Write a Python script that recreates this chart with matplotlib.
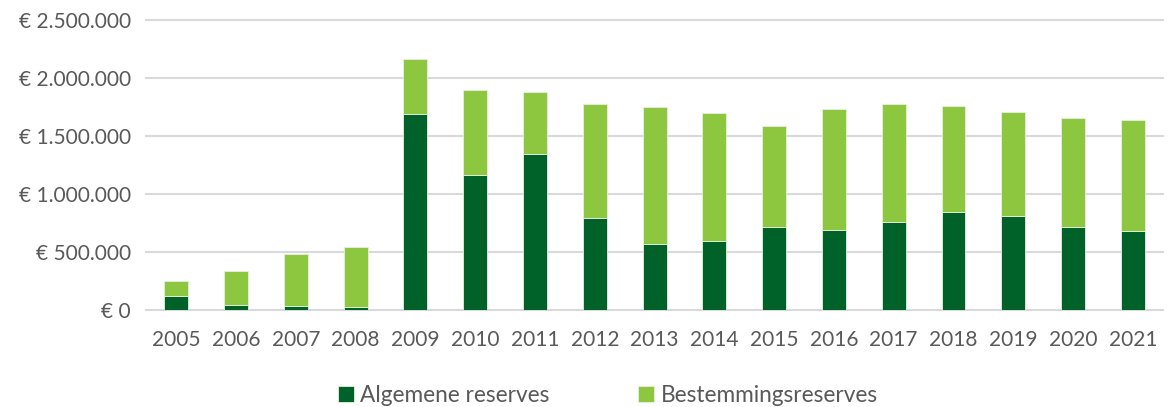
import numpy as np
import matplotlib
matplotlib.use("Agg")
import matplotlib.pyplot as plt
from matplotlib.ticker import FuncFormatter

years = [str(y) for y in range(2005, 2022)]
algemene = [126000, 46000, 37000, 26000, 1690000, 1165000, 1346000, 795000, 571000,
            597000, 715000, 689000, 755000, 847000, 812000, 718000, 683000]
totaal = [250000, 336000, 485000, 543000, 2167000, 1894000, 1877000, 1780000, 1751000,
          1699000, 1590000, 1731000, 1777000, 1759000, 1711000, 1659000, 1642000]
bestemming = [t - a for t, a in zip(totaal, algemene)]

dark = '#006228'
light = '#8dc63f'
grey_text = '#595959'

plt.rcParams['font.family'] = ['Lato', 'DejaVu Sans']

fig = plt.figure(figsize=(11.71, 4.07), dpi=100)
ax = fig.add_axes([0.125, 0.238, 0.868, 0.713])

x = np.arange(len(years))
w = 0.4
ax.bar(x, algemene, w, color=dark, edgecolor='#e8f0e0', linewidth=0.6, label='Algemene reserves', zorder=3)
ax.bar(x, bestemming, w, bottom=algemene, color=light, edgecolor='#e8f0e0', linewidth=0.6,
       label='Bestemmingsreserves', zorder=3)

ax.set_xlim(-0.5, len(years) - 0.5)
ax.set_ylim(0, 2500000)
ax.set_yticks(np.arange(0, 2500001, 500000))
ax.yaxis.set_major_formatter(FuncFormatter(lambda v, p: '€ ' + f'{int(v):,}'.replace(',', '.')))
ax.set_xticks(x)
ax.set_xticklabels(years)
ax.grid(axis='y', color='#d9d9d9', linewidth=1.5, zorder=0)
for ln in ax.get_ygridlines():
    ln.set_clip_on(False)
for s in ax.spines.values():
    s.set_visible(False)
ax.tick_params(length=0, labelsize=15, colors=grey_text)
ax.tick_params(axis='y', pad=11)
ax.tick_params(axis='x', pad=14)

leg = fig.legend(loc='center', bbox_to_anchor=(0.519, 0.028), ncol=2, frameon=False,
                 fontsize=16.3, handlelength=0.7, handleheight=0.7, handletextpad=0.3,
                 columnspacing=3.9)
for t in leg.get_texts():
    t.set_color(grey_text)

fig.savefig('out.png', dpi=100)
